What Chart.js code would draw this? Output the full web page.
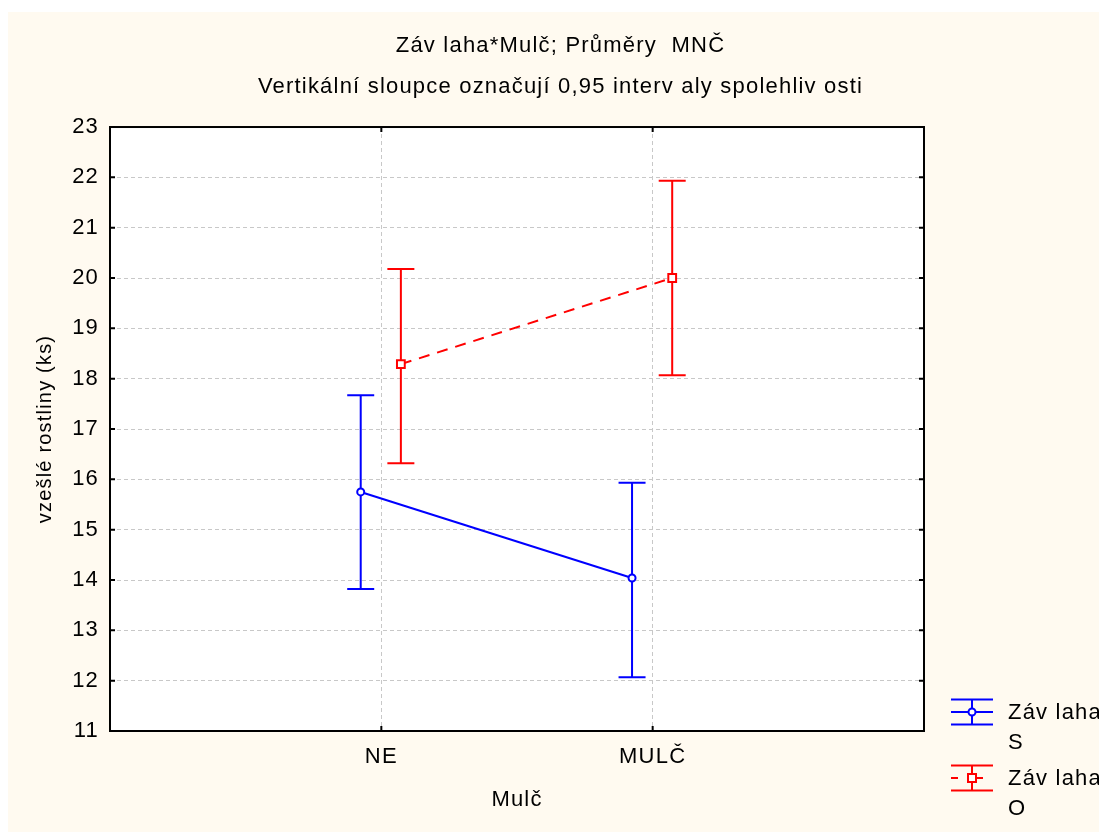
<!DOCTYPE html>
<html lang="cs">
<head>
    <meta charset="UTF-8">
    <title>Závlaha*Mulč; Průměry MNČ</title>
    <script src="https://cdn.jsdelivr.net/npm/chart.js"></script>
    <style>
        * { margin: 0; padding: 0; box-sizing: border-box; }
        body { background: #ffffff; width: 1099px; height: 832px; overflow: hidden; position: relative; }
        .backdrop { position: absolute; left: 8px; top: 12px; right: 0; bottom: 0; background: #fffaf0; }
        #meansChart { position: absolute; left: 0; top: 0; }
    </style>
</head>
<body>
    <div class="backdrop"></div>
    <canvas id="meansChart" width="1099" height="832"></canvas>

    <script>
        // categories and series
        const categories = ['NE', 'MULČ'];
        const seriesNames = [['Záv laha', 'S'], ['Záv laha', 'O']];

        // means and 0.95 confidence limits
        const meanS = [15.75, 14.04];
        const lowS = [13.82, 12.07];
        const highS = [17.67, 15.93];

        const meanO = [18.29, 20.00];
        const lowO = [16.32, 18.07];
        const highO = [20.18, 21.93];

        const yMin = 11;
        const yMax = 23;
        const yStep = 1;

        const FONT = "'Liberation Sans', Arial, sans-serif";
        const blue = '#0000ff';
        const red = '#ff0000';
        const dodgeS = -0.076;
        const dodgeO = 0.072;

        function setSpacing(chart) {
            if ('letterSpacing' in chart.ctx) chart.ctx.letterSpacing = '1.2px';
        }

        const spacingPlugin = {
            id: 'spacing',
            beforeLayout: setSpacing,
            beforeDraw: setSpacing
        };

        // white plot area
        const plotBg = {
            id: 'plotBg',
            beforeDraw(chart) {
                const { ctx, chartArea: a } = chart;
                ctx.save();
                ctx.fillStyle = '#ffffff';
                ctx.fillRect(a.left, a.top, a.right - a.left, a.bottom - a.top);
                ctx.restore();
            }
        };

        // vertical confidence bars with caps
        const errorBars = {
            id: 'errorBars',
            beforeDatasetsDraw(chart) {
                const { ctx, scales: { x, y } } = chart;
                ctx.save();
                ctx.lineWidth = 2;
                chart.data.datasets.forEach(ds => {
                    ctx.strokeStyle = ds.borderColor;
                    ds.data.forEach((pt, i) => {
                        const px = x.getPixelForValue(pt.x);
                        const top = y.getPixelForValue(ds.high[i]);
                        const bot = y.getPixelForValue(ds.low[i]);
                        ctx.beginPath();
                        ctx.moveTo(px, top);
                        ctx.lineTo(px, bot);
                        ctx.moveTo(px - 13.5, top);
                        ctx.lineTo(px + 13.5, top);
                        ctx.moveTo(px - 13.5, bot);
                        ctx.lineTo(px + 13.5, bot);
                        ctx.stroke();
                    });
                });
                ctx.restore();
            }
        };

        // black frame with inward tick marks
        const frame = {
            id: 'frame',
            afterDatasetsDraw(chart) {
                const { ctx, chartArea: a, scales: { x, y } } = chart;
                ctx.save();
                ctx.strokeStyle = '#000000';
                ctx.lineWidth = 2;
                ctx.strokeRect(a.left, a.top, a.right - a.left, a.bottom - a.top);
                ctx.beginPath();
                y.ticks.forEach(t => {
                    const py = y.getPixelForValue(t.value);
                    ctx.moveTo(a.left, py); ctx.lineTo(a.left + 5, py);
                    ctx.moveTo(a.right, py); ctx.lineTo(a.right - 5, py);
                });
                x.ticks.forEach(t => {
                    const px = x.getPixelForValue(t.value);
                    ctx.moveTo(px, a.bottom); ctx.lineTo(px, a.bottom - 5);
                    ctx.moveTo(px, a.top); ctx.lineTo(px, a.top + 5);
                });
                ctx.stroke();
                ctx.restore();
            }
        };

        // legend drawn in the right margin
        const sideLegend = {
            id: 'sideLegend',
            afterDraw(chart) {
                const { ctx, chartArea: a } = chart;
                const x0 = a.right + 27;
                const x1 = a.right + 69;
                const xm = (x0 + x1) / 2;
                const rows = [712, 778];
                ctx.save();
                ctx.font = '22px ' + FONT;
                ctx.textBaseline = 'middle';
                ctx.fillStyle = '#000000';
                chart.data.datasets.forEach((ds, k) => {
                    const cy = rows[k];
                    ctx.strokeStyle = ds.borderColor;
                    ctx.lineWidth = 2;
                    ctx.beginPath();
                    ctx.moveTo(x0, cy - 12.5); ctx.lineTo(x1, cy - 12.5);
                    ctx.moveTo(x0, cy + 12.5); ctx.lineTo(x1, cy + 12.5);
                    ctx.moveTo(xm, cy - 12.5); ctx.lineTo(xm, cy + 12.5);
                    ctx.stroke();
                    ctx.beginPath();
                    if (ds.borderDash) {
                        ctx.moveTo(x0, cy); ctx.lineTo(x0 + 7, cy);
                        ctx.moveTo(xm + 4, cy); ctx.lineTo(x1 - 10, cy);
                    } else {
                        ctx.moveTo(x0, cy); ctx.lineTo(x1, cy);
                    }
                    ctx.stroke();
                    ctx.fillStyle = '#ffffff';
                    ctx.beginPath();
                    if (ds.pointStyle === 'rect') {
                        ctx.rect(xm - 4, cy - 4, 8, 8);
                    } else {
                        ctx.arc(xm, cy, 3.5, 0, Math.PI * 2);
                    }
                    ctx.fill();
                    ctx.stroke();
                    ctx.fillStyle = '#000000';
                    seriesNames[k].forEach((line, j) => {
                        ctx.fillText(line, a.right + 84, cy + 1 + j * 30);
                    });
                });
                ctx.restore();
            }
        };

        const ctx = document.getElementById('meansChart').getContext('2d');
        new Chart(ctx, {
            type: 'line',
            data: {
                datasets: [{
                    label: seriesNames[0].join(' '),
                    data: meanS.map((m, i) => ({ x: i + 1 + dodgeS, y: m })),
                    low: lowS,
                    high: highS,
                    borderColor: blue,
                    backgroundColor: '#ffffff',
                    borderWidth: 2,
                    pointStyle: 'circle',
                    pointRadius: 3.5,
                    pointBorderWidth: 2,
                    pointBackgroundColor: '#ffffff',
                    pointBorderColor: blue
                }, {
                    label: seriesNames[1].join(' '),
                    data: meanO.map((m, i) => ({ x: i + 1 + dodgeO, y: m })),
                    low: lowO,
                    high: highO,
                    borderColor: red,
                    backgroundColor: '#ffffff',
                    borderWidth: 2,
                    borderDash: [11, 8],
                    pointStyle: 'rect',
                    pointRadius: 5.5,
                    pointBorderWidth: 2,
                    pointBackgroundColor: '#ffffff',
                    pointBorderColor: red
                }]
            },
            options: {
                responsive: false,
                animation: false,
                events: [],
                layout: { padding: { left: 22, top: 0, right: 0, bottom: 0 } },
                plugins: {
                    legend: { display: false },
                    tooltip: { enabled: false },
                    title: {
                        display: true,
                        text: ['Záv laha*Mulč; Průměry  MNČ', 'Vertikální sloupce označují 0,95 interv aly spolehliv osti'],
                        color: '#000000',
                        font: { family: FONT, size: 22, weight: 'normal', lineHeight: 1.864 },
                        padding: { top: 25.5, bottom: 19.5 }
                    }
                },
                scales: {
                    x: {
                        type: 'linear',
                        min: 0,
                        max: 3,
                        afterBuildTicks: scale => {
                            scale.ticks = categories.map((c, i) => ({ value: i + 1 }));
                        },
                        afterFit: scale => { scale.height = 101; },
                        ticks: {
                            color: '#000000',
                            font: { family: FONT, size: 22 },
                            padding: 12.8,
                            autoSkip: false,
                            maxRotation: 0,
                            callback: v => categories[v - 1]
                        },
                        grid: { color: '#c8c8c8', lineWidth: 1, drawTicks: false },
                        border: { display: false, dash: [4, 3] },
                        title: {
                            display: true,
                            text: 'Mulč',
                            color: '#000000',
                            font: { family: FONT, size: 22, lineHeight: 1.2 },
                            padding: { top: 0, bottom: 18.8 }
                        }
                    },
                    y: {
                        min: yMin,
                        max: yMax,
                        afterFit: scale => { scale.width = 88; },
                        ticks: {
                            stepSize: yStep,
                            color: '#000000',
                            font: { family: FONT, size: 22 },
                            padding: 11
                        },
                        grid: { color: '#c8c8c8', lineWidth: 1, drawTicks: false },
                        border: { display: false, dash: [4, 3] },
                        title: {
                            display: true,
                            text: 'vzešlé rostliny (ks)',
                            color: '#000000',
                            font: { family: FONT, size: 20, lineHeight: 1.2 },
                            padding: { top: 11, bottom: 0 }
                        }
                    },
                    side: {
                        position: 'right',
                        display: true,
                        afterFit: scale => { scale.width = 175; },
                        ticks: { display: false },
                        grid: { display: false, drawTicks: false },
                        border: { display: false }
                    }
                }
            },
            plugins: [spacingPlugin, plotBg, errorBars, frame, sideLegend]
        });
    </script>
</body>
</html>
